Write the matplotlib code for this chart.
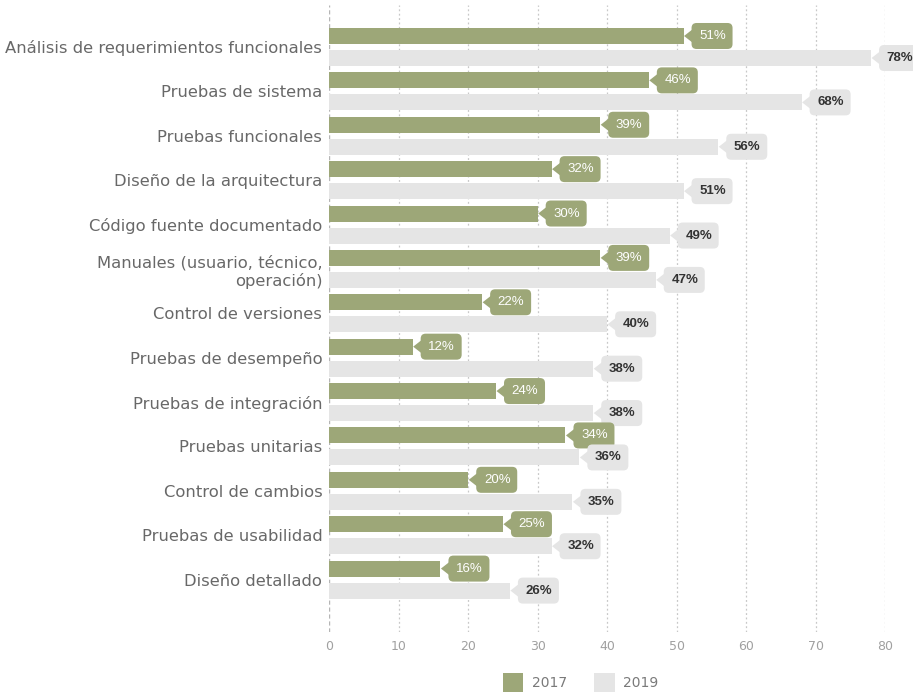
import matplotlib.pyplot as plt
import matplotlib.transforms as mtransforms
from matplotlib.patches import FancyBboxPatch, Polygon, Patch
import numpy as np

categories = [
    "Análisis de requerimientos funcionales",
    "Pruebas de sistema",
    "Pruebas funcionales",
    "Diseño de la arquitectura",
    "Código fuente documentado",
    "Manuales (usuario, técnico,\noperación)",
    "Control de versiones",
    "Pruebas de desempeño",
    "Pruebas de integración",
    "Pruebas unitarias",
    "Control de cambios",
    "Pruebas de usabilidad",
    "Diseño detallado",
]
vals_2017 = [51, 46, 39, 32, 30, 39, 22, 12, 24, 34, 20, 25, 16]
vals_2019 = [78, 68, 56, 51, 49, 47, 40, 38, 38, 36, 35, 32, 26]
years = ["2017", "2019"]
x_ticks = [0, 10, 20, 30, 40, 50, 60, 70, 80]

GREEN = "#9da778"
GREY = "#e5e5e5"
DPI = 100


def callout(ax, x, y, text, face, color, weight):
    # rounded tag with a left-pointing tip, sized in pixels and anchored at (x, y)
    fig = ax.figure
    trans = fig.dpi_scale_trans + mtransforms.ScaledTranslation(x, y, ax.transData)
    px = 1 / DPI
    box = FancyBboxPatch((11 * px, -10 * px), 35 * px, 20 * px,
                         boxstyle=f"round,pad={3 * px},rounding_size={5 * px}",
                         facecolor=face, edgecolor="none", transform=trans,
                         clip_on=False, zorder=4)
    tip = Polygon([(0.5 * px, 0), (12 * px, 9 * px), (12 * px, -9 * px)],
                  closed=True, facecolor=face, edgecolor="none",
                  transform=trans, clip_on=False, zorder=4)
    ax.add_patch(box)
    ax.add_patch(tip)
    ax.text(29 * px, 0, text, transform=trans, ha="center", va="center",
            fontsize=9.5, color=color, fontweight=weight,
            family="Liberation Sans", zorder=5, clip_on=False)


fig = plt.figure(figsize=(913 / DPI, 696 / DPI), dpi=DPI)
ax = fig.add_axes([0.3607, 0.092, 0.6086, 0.9008])

pos = np.arange(len(categories))
h = 0.36
off = 0.248
ax.barh(pos - off, vals_2017, height=h, color=GREEN, zorder=3)
ax.barh(pos + off, vals_2019, height=h, color=GREY, zorder=3)

for i in range(len(categories)):
    callout(ax, vals_2017[i], pos[i] - off, f"{vals_2017[i]}%", GREEN, "white", "normal")
    callout(ax, vals_2019[i], pos[i] + off, f"{vals_2019[i]}%", GREY, "#333333", "bold")

ax.set_xlim(0, 80)
ax.set_ylim(len(categories) - 1 + 1.18, -0.946)
ax.set_xticks(x_ticks)
ax.set_xticklabels([str(t) for t in x_ticks], color="#a0a0a0", fontsize=9)
ax.set_yticks(pos)
ax.set_yticklabels(categories, color="#686868", fontsize=11.8)
ax.tick_params(axis="both", length=0)
ax.tick_params(axis="x", pad=6)
ax.tick_params(axis="y", pad=5)
for lbl in ax.get_yticklabels():
    lbl.set_multialignment("right")

for t in x_ticks[1:]:
    ax.axvline(t, color="#c8c8c8", linestyle=(0, (1.5, 2)), linewidth=0.9, zorder=1)
ax.axvline(0, color="#b5b5b5", linestyle=(0, (3, 2)), linewidth=1.0, zorder=2)

for s in ax.spines.values():
    s.set_visible(False)

handles = [Patch(facecolor=GREEN, edgecolor="none"), Patch(facecolor=GREY, edgecolor="none")]
fig.legend(handles, years, loc="center", bbox_to_anchor=(0.636, 0.019), ncol=2,
           frameon=False, handlelength=1.45, handleheight=1.7, columnspacing=2.0,
           handletextpad=0.6, prop={"size": 10}, labelcolor="#7a7a7a")

fig.savefig("out.png", dpi=DPI)
